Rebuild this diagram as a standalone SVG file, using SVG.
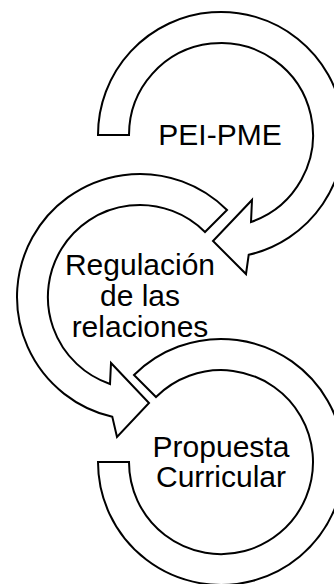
<svg xmlns="http://www.w3.org/2000/svg" width="334" height="584" viewBox="0 0 334 584">
<style>
.band{fill:#ffffff;stroke:#000000;stroke-width:2;stroke-linejoin:miter}
.lbl{font-family:"Liberation Sans",Arial,sans-serif;font-size:30px;fill:#000000;text-anchor:middle}
</style>
<rect width="334" height="584" fill="#ffffff"/>
<g id="connectors"></g>
<g id="node-pei">
<path class="band" d="M98,135 A123,123 0 1 1 248.7,254.8 L246,274 L213,241 L252,200 L251,222 A92,92 0 1 0 129,135 Z"/>
<text class="lbl" x="220" y="145">PEI-PME</text>
</g>
<g id="node-regulacion">
<path class="band" d="M227,210 A123,123 0 1 0 112.3,416.8 L117,437 L149,403 L111,363 L110,384 A92,92 0 1 1 205,232 Z"/>
</g>
<g id="node-propuesta">
<path class="band" d="M134,375 A123,123 0 1 1 98,462 L129,462 A92,92 0 1 0 156,397 Z"/>
<text class="lbl" x="221" y="457">Propuesta</text>
<text class="lbl" x="221" y="487">Curricular</text>
</g>
<g id="labels-regulacion">
<text class="lbl" x="140" y="275">Regulación</text>
<text class="lbl" x="140" y="306">de las</text>
<text class="lbl" x="140" y="337">relaciones</text>
</g>
</svg>
